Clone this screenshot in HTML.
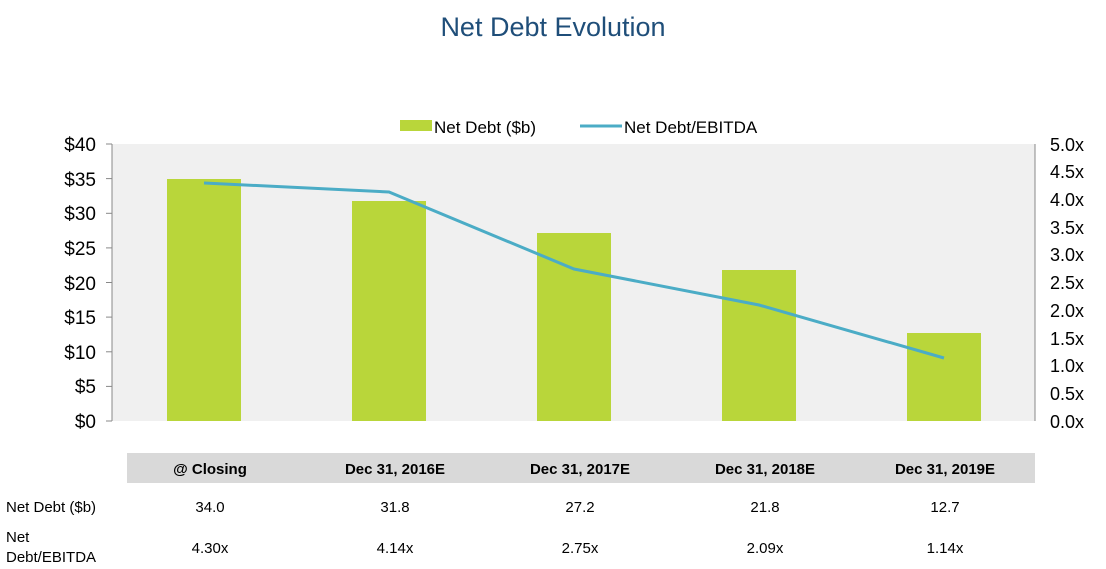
<!DOCTYPE html>
<html><head><style>
body{margin:0;width:1106px;height:569px;background:#fff;font-family:"Liberation Sans",sans-serif;position:relative;overflow:hidden}
</style></head><body>
<svg width="1106" height="569" style="position:absolute;left:0;top:0" font-family="Liberation Sans, sans-serif">
<text x="553" y="36" text-anchor="middle" font-size="27" fill="#1f4e79">Net Debt Evolution</text>
<rect x="112" y="144" width="923" height="277" fill="#f0f0f0"/>
<g fill="#b9d63a">
<rect x="167" y="179" width="74" height="242"/>
<rect x="352" y="201" width="74" height="220"/>
<rect x="537" y="233" width="74" height="188"/>
<rect x="722" y="270" width="74" height="151"/>
<rect x="907" y="333" width="74" height="88"/>
</g>
<polyline points="204,183 389,192 574,269 759,305 944,358" fill="none" stroke="#4bacc6" stroke-width="3"/>
<g stroke="#888" stroke-width="1">
<line x1="112" y1="144" x2="112" y2="421"/><line x1="1035" y1="144" x2="1035" y2="421"/>
</g>
<g stroke="#888">
<line x1="106" y1="144" x2="112" y2="144"/><line x1="106" y1="178.6" x2="112" y2="178.6"/><line x1="106" y1="213.3" x2="112" y2="213.3"/><line x1="106" y1="247.9" x2="112" y2="247.9"/><line x1="106" y1="282.5" x2="112" y2="282.5"/><line x1="106" y1="317.1" x2="112" y2="317.1"/><line x1="106" y1="351.8" x2="112" y2="351.8"/><line x1="106" y1="386.4" x2="112" y2="386.4"/><line x1="106" y1="421" x2="112" y2="421"/>
</g>
<g font-size="19" text-anchor="end" fill="#000">
<text x="96" y="151">$40</text><text x="96" y="186">$35</text><text x="96" y="220">$30</text><text x="96" y="255">$25</text><text x="96" y="290">$20</text><text x="96" y="324">$15</text><text x="96" y="359">$10</text><text x="96" y="393">$5</text><text x="96" y="428">$0</text>
</g>
<g font-size="18" fill="#000">
<text x="1050" y="151">5.0x</text><text x="1050" y="178">4.5x</text><text x="1050" y="206">4.0x</text><text x="1050" y="234">3.5x</text><text x="1050" y="261">3.0x</text><text x="1050" y="289">2.5x</text><text x="1050" y="317">2.0x</text><text x="1050" y="345">1.5x</text><text x="1050" y="372">1.0x</text><text x="1050" y="400">0.5x</text><text x="1050" y="428">0.0x</text>
</g>
<rect x="400" y="120" width="32" height="11" fill="#b9d63a"/>
<text x="434" y="133" font-size="17">Net Debt ($b)</text>
<line x1="580" y1="126" x2="622" y2="126" stroke="#4bacc6" stroke-width="3"/>
<text x="624" y="133" font-size="17">Net Debt/EBITDA</text>
<rect x="127" y="453" width="908" height="30" fill="#d9d9d9"/>
<g font-size="15" font-weight="bold" text-anchor="middle">
<text x="210" y="474">@ Closing</text><text x="395" y="474">Dec 31, 2016E</text><text x="580" y="474">Dec 31, 2017E</text><text x="765" y="474">Dec 31, 2018E</text><text x="945" y="474">Dec 31, 2019E</text>
</g>
<g font-size="15">
<text x="6" y="512">Net Debt ($b)</text>
<text x="6" y="542">Net</text><text x="6" y="562">Debt/EBITDA</text>
</g>
<g font-size="15" text-anchor="middle">
<text x="210" y="512">34.0</text><text x="395" y="512">31.8</text><text x="580" y="512">27.2</text><text x="765" y="512">21.8</text><text x="945" y="512">12.7</text>
<text x="210" y="553">4.30x</text><text x="395" y="553">4.14x</text><text x="580" y="553">2.75x</text><text x="765" y="553">2.09x</text><text x="945" y="553">1.14x</text>
</g>
</svg>
</body></html>
